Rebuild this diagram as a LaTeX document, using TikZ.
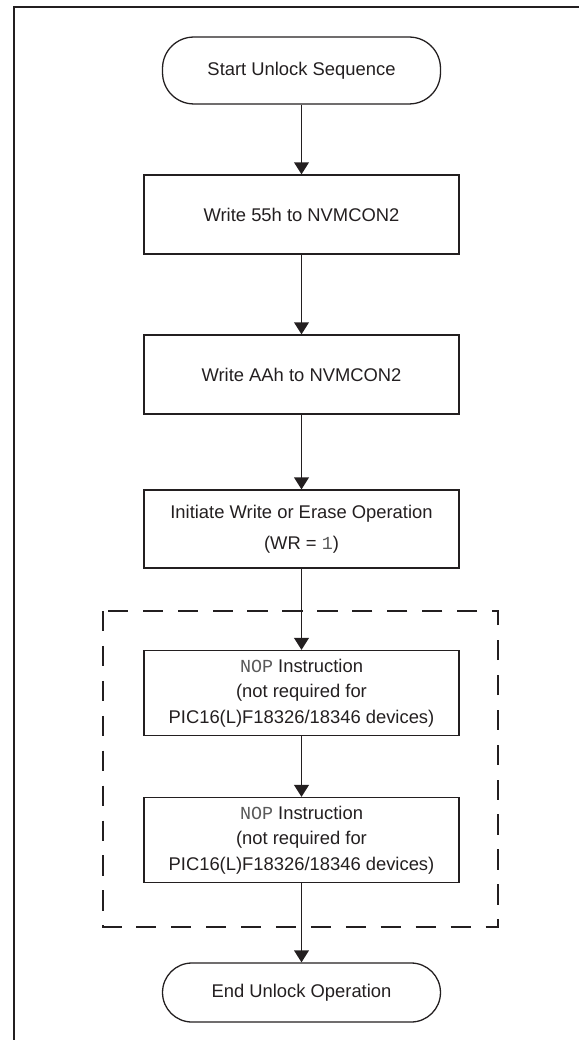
\documentclass[tikz,border=0pt]{standalone}
\usepackage{fontspec}
\setmainfont{Liberation Sans}
\newfontfamily\codefont{Liberation Mono}
\usetikzlibrary{arrows.meta, positioning}
\definecolor{inkline}{HTML}{231F20}
\definecolor{codegray}{HTML}{5A5A5A}

\begin{document}
\begin{tikzpicture}[x=0.544pt, y=-0.544pt,
  >={Triangle[length=6.5pt, width=8pt]},
  every node/.style={font=\fontsize{10pt}{12pt}\selectfont, text=inkline},
  terminal/.style={draw=inkline, line width=0.7pt, rounded corners=17pt,
    minimum width=151.2pt, inner sep=0pt},
  procbox/.style={draw=inkline, line width=0.7pt, minimum width=171.4pt,
    minimum height=43pt, inner sep=0pt, align=center},
  nopbox/.style={draw=inkline, line width=0.7pt, minimum width=171.4pt,
    minimum height=46.2pt, inner sep=0pt, align=center},
  flow/.style={draw=inkline, line width=0.8pt, ->}]

% Page frame (top and left edge only)
\useasboundingbox (0,0) rectangle (579,1040);
\draw[inkline, line width=0.8pt] (579,7) -- (14,7) -- (14,1040);

% Start / end terminals
\node[terminal, minimum height=36.4pt] (start) at (301.5,70.5) {Start Unlock Sequence};
\node[terminal, minimum height=32.1pt, rounded corners=16pt] (finish) at (301.5,992.5) {End Unlock Operation};

% Unlock steps
\node[procbox] (wr55) at (301.5,214.5) {Write 55h to NVMCON2};
\node[procbox] (wraa) at (301.5,374.5) {Write AAh to NVMCON2};
\node[procbox, minimum height=42.4pt] (wrset) at (301.5,529)
  {Initiate Write or Erase Operation\\[5pt](WR = {\codefont\color{codegray}1})};

% Optional NOPs
\draw[inkline, line width=0.8pt, dash pattern=on 11pt off 8pt] (103,611) rectangle (498,927);
\node[nopbox] (nopa) at (301.5,693)
  {{\codefont\color{codegray}NOP} Instruction\\[2pt](not required for\\[2pt]PIC16(L)F18326/18346 devices)};
\node[nopbox] (nopb) at (301.5,840)
  {{\codefont\color{codegray}NOP} Instruction\\[2pt](not required for\\[2pt]PIC16(L)F18326/18346 devices)};

% Connectors
\draw[flow] (start) -- (wr55);
\draw[flow] (wr55) -- (wraa);
\draw[flow] (wraa) -- (wrset);
\draw[flow] (wrset) -- (nopa);
\draw[flow] (nopa) -- (nopb);
\draw[flow] (nopb) -- (finish);

\end{tikzpicture}
\end{document}
